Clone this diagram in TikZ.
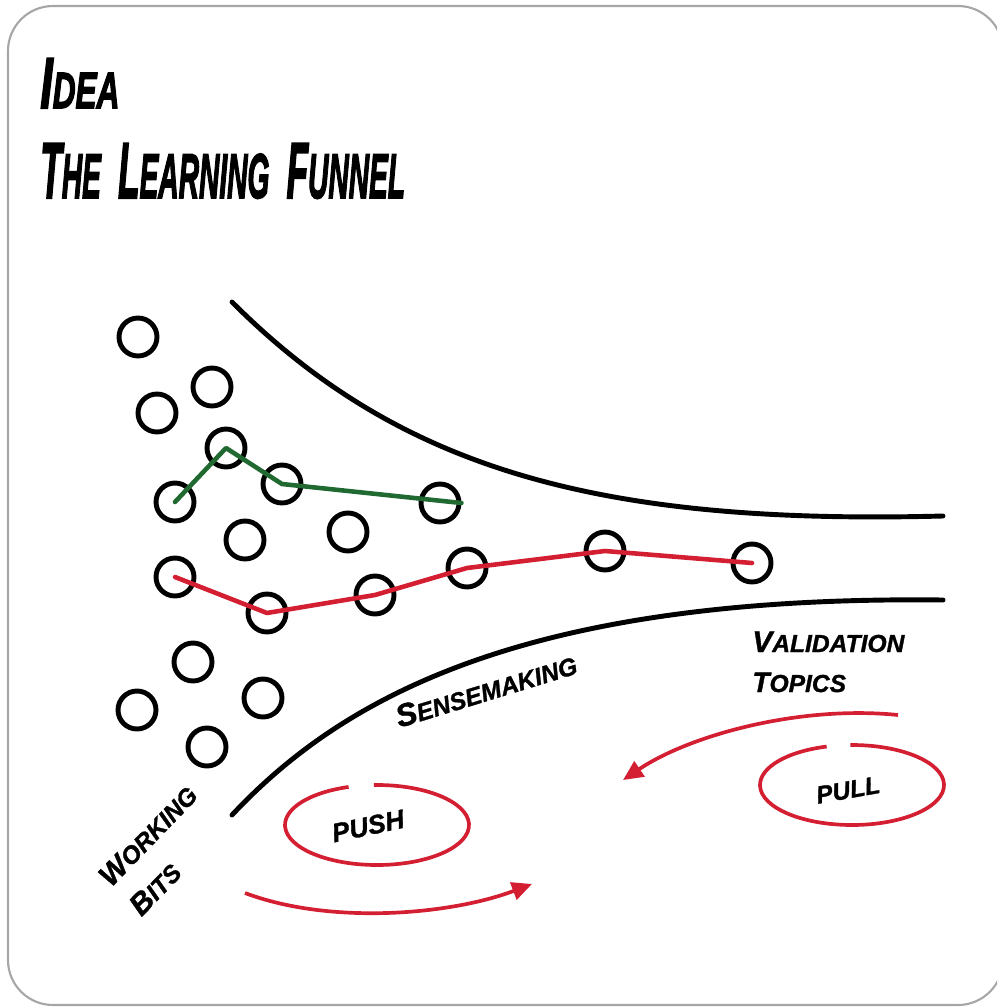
\documentclass[tikz,border=0pt]{standalone}
\usepackage{graphicx}
\usepackage{fontspec}
\setmainfont{Liberation Sans}
\newfontfamily\handfont[FakeBold=1.2]{Liberation Sans}
\newfontfamily\titlefont[FakeBold=3]{Liberation Sans}
\usetikzlibrary{arrows.meta}
\definecolor{penred}{RGB}{212,30,50}
\definecolor{pengreen}{RGB}{32,106,50}
\newcommand{\lt}[2]{{\fontsize{#1}{#1}\selectfont #2}}
\begin{document}
\begin{tikzpicture}[x=0.02cm,y=-0.02cm,
	bit/.style={circle,draw,line width=2.8pt,minimum size=0.76cm,inner sep=0pt},
	wall/.style={line width=2.8pt,line cap=round},
	trail/.style={line width=2.6pt,line cap=round,line join=round},
	loop/.style={penred,line width=2.1pt},
	hand/.style={font=\handfont\bfseries\itshape,inner sep=0pt},
	headline/.style={font=\titlefont\bfseries\itshape,inner sep=0pt,anchor=base west}]
	\useasboundingbox (0,0) rectangle (997,1007);
	\clip (0,0) rectangle (997,1007);
	\draw[gray!70,line width=1.2pt,rounded corners=0.9cm] (8,6) rectangle (1003,1005);
	\node[headline] (idea) at (40,108) {\scalebox{0.62}[1]{\lt{41pt}{I}\lt{29pt}{DEA}}};
	\node[headline] (title) at (40,198) {\scalebox{0.445}[1]{\lt{45pt}{T}\lt{36pt}{HE}\hspace{22pt}\lt{45pt}{L}\lt{36pt}{EARNING}\hspace{22pt}\lt{45pt}{F}\lt{36pt}{UNNEL}}};
	\foreach \n/\x/\y in {w1/138/337,w2/157/413,w3/212/387,g1/175/502,g2/226/448,g3/282/484,g4/440/503,
		w4/245/540,w5/348/532,r1/175/577,r2/267/613,r3/375/595,r4/467/568,r5/605/551,r6/752/563,
		w6/193/662,w7/137/710,w8/263/698,w9/207/747}
		\node[bit] (\n) at (\x,\y) {};
	\draw[trail,pengreen] (g1.center) -- (g2.center) -- (g3.center) -- (g4.east);
	\draw[trail,penred] (r1.center) -- (r2.center) -- (r3.center) -- (r4.center) -- (r5.center) -- (r6.center);
	\draw[wall] (232,302) .. controls (400,470) and (600,525) .. (943,516);
	\draw[wall] (232,815) .. controls (340,700) and (520,595) .. (943,600);
	\node[hand,rotate=17] (sense) at (486,690) {\lt{18pt}{S}\lt{14pt}{ENSEMAKING}};
	\node[hand,rotate=46,align=left,font=\handfont\bfseries\itshape\fontsize{14pt}{24pt}\selectfont] (bits) at (163,850)
		{\lt{17pt}{W}\lt{14pt}{ORKING}\\\lt{17pt}{B}\lt{14pt}{ITS}};
	\node[hand,anchor=base west] (valid) at (752,652) {\lt{17pt}{V}\lt{14pt}{ALIDATION}};
	\node[hand,anchor=base west] (topics) at (752,692) {\lt{16pt}{T}\lt{14pt}{OPICS}};
	\node[hand,rotate=12] (push) at (368,826) {\lt{15pt}{PUSH}};
	\node[hand,rotate=10] (pull) at (848,790) {\lt{14pt}{PULL}};
	\draw[loop] (push.center) ++(9,-1) ++(268:92 and 40) arc[start angle=268,end angle=612,x radius=92,y radius=40];
	\draw[loop] (pull.center) ++(4,-5) ++(269:92 and 40) arc[start angle=269,end angle=614,x radius=92,y radius=40];
	\coordinate (pushfrom) at (245,893);
	\coordinate (pushto) at (532,884);
	\coordinate (pullfrom) at (898,715);
	\coordinate (pullto) at (623,780);
	\draw[loop,-{Triangle[length=0.4cm,width=0.36cm]}] (pushfrom) .. controls (330,925) and (450,915) .. (pushto);
	\draw[loop,-{Triangle[length=0.4cm,width=0.36cm]}] (pullfrom) .. controls (800,705) and (690,735) .. (pullto);
\end{tikzpicture}
\end{document}
